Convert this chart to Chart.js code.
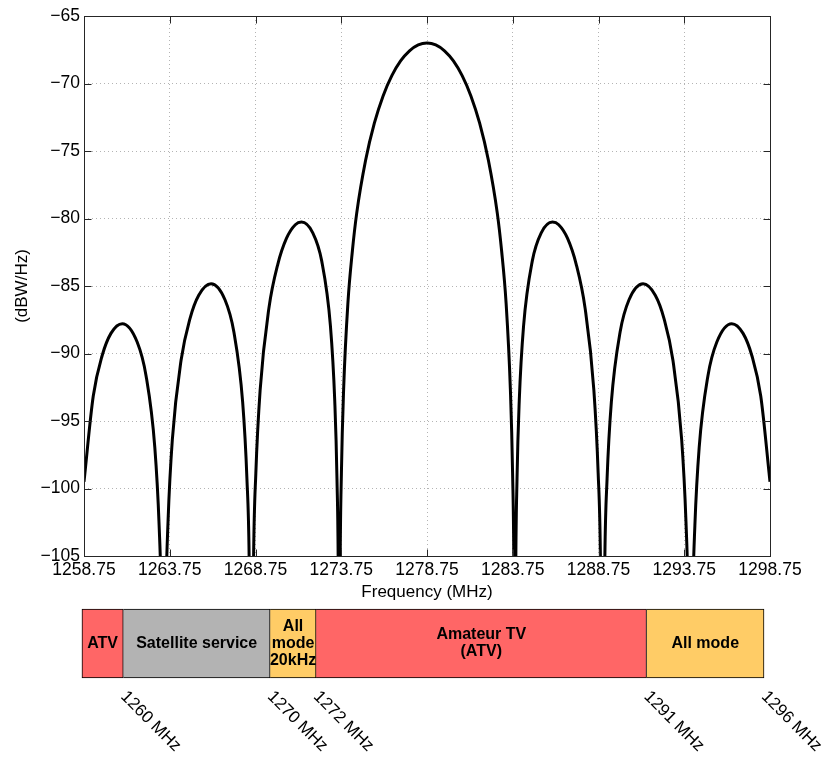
<!DOCTYPE html>
<html>
<head>
<meta charset="utf-8">
<script src="https://cdn.jsdelivr.net/npm/chart.js@4.4.1/dist/chart.umd.min.js"></script>
<style>
  html, body { margin: 0; padding: 0; background: #fff; }
  #wrap { position: relative; width: 834px; height: 758px; }
  #spectrum { position: absolute; left: 0; top: 0; }
  #bands { position: absolute; left: 0; top: 600px; }
</style>
</head>
<body>
<div id="wrap">
  <canvas id="spectrum" width="834" height="610"></canvas>
  <canvas id="bands" width="834" height="158"></canvas>
</div>
<script>
// spectrum (MHz, dBW/Hz); nulls go below the axis floor
var freq = [
  1258.75, 1259.29, 1259.81, 1260.32, 1260.98, 1261.85, 1262.37, 1262.88, 1263.13, 1263.26,
  1263.39, 1263.52, 1263.65, 1263.90, 1264.41, 1264.93, 1265.44, 1266.16, 1266.97, 1267.49,
  1268.00, 1268.25, 1268.38, 1268.51, 1268.64, 1268.77, 1269.02, 1269.53, 1270.05, 1270.56,
  1271.07, 1271.43, 1272.09, 1272.61, 1273.12, 1273.37, 1273.50, 1273.58, 1273.63, 1273.68,
  1273.76, 1273.89, 1274.14, 1274.40, 1274.65, 1275.17, 1275.68, 1276.19, 1276.70, 1277.21,
  1277.73, 1278.24, 1278.75, 1279.26, 1279.77, 1280.29, 1280.80, 1281.31, 1281.82, 1282.33,
  1282.85, 1283.10, 1283.36, 1283.61, 1283.74, 1283.82, 1283.87, 1283.92, 1284.00, 1284.13,
  1284.38, 1284.89, 1285.41, 1286.07, 1286.43, 1286.94, 1287.45, 1287.97, 1288.48, 1288.73,
  1288.86, 1288.99, 1289.12, 1289.25, 1289.50, 1290.01, 1290.53, 1291.35, 1292.06, 1292.57,
  1293.09, 1293.60, 1293.85, 1293.98, 1294.11, 1294.24, 1294.37, 1294.62, 1295.13, 1295.65,
  1296.52, 1297.18, 1297.69, 1298.21, 1298.75
];
var level = [
  -99.5, -93.15, -90.15, -88.51, -87.79, -89.15, -91.66, -96.97, -102.74, -108.66,
  -125, -108.5, -102.45, -96.39, -90.5, -87.41, -85.68, -84.83, -86.02, -88.41,
  -93.59, -99.29, -105.2, -125, -104.96, -98.86, -92.72, -86.66, -83.39, -81.46,
  -80.46, -80.26, -81.06, -83.14, -87.97, -93.48, -99.26, -107.09, -125, -106.9,
  -98.83, -92.61, -86.23, -82.39, -79.62, -75.69, -72.94, -70.92, -69.42, -68.33,
  -67.58, -67.14, -67.0, -67.14, -67.58, -68.33, -69.42, -70.92, -72.94, -75.69,
  -79.62, -82.39, -86.23, -92.61, -98.83, -106.9, -125, -107.09, -99.26, -93.48,
  -87.97, -83.14, -81.06, -80.26, -80.46, -81.46, -83.39, -86.66, -92.72, -98.86,
  -104.96, -125, -105.2, -99.29, -93.59, -88.41, -86.02, -84.83, -85.68, -87.41,
  -90.5, -96.39, -102.45, -108.5, -125, -108.66, -102.74, -96.97, -91.66, -89.15,
  -87.79, -88.51, -90.15, -93.15, -99.5
];
var freqTicks = [1258.75, 1263.75, 1268.75, 1273.75, 1278.75, 1283.75, 1288.75, 1293.75, 1298.75];
var levelTicks = [-105, -100, -95, -90, -85, -80, -75, -70, -65];

// band plan strip, edges placed where they sit under the frequency axis
var bandNames = [['ATV'], ['Satellite service'], ['All', 'mode', '20kHz'], ['Amateur TV', '(ATV)'], ['All mode']];
var bandStart = [1258.63, 1261.04, 1269.6, 1272.28, 1291.55];
var bandEnd = [1261.04, 1269.6, 1272.28, 1291.55, 1298.4];
var bandColors = ['#ff6666', '#b3b3b3', '#ffcc66', '#ff6666', '#ffcc66'];
var edgeLabels = ['1260 MHz', '1270 MHz', '1272 MHz', '1291 MHz', '1296 MHz'];

var FONT = '"Liberation Sans", Arial, Helvetica, sans-serif';
Chart.defaults.font.family = FONT;
Chart.defaults.color = '#000';

function minusLabel(v) {
    return v < 0 ? '\u2212' + Math.abs(v) : String(v);
}

// matlab style box with inward ticks on all four sides
var frameBox = {
    id: 'frameBox',
    afterDraw: function(chart) {
        var a = chart.chartArea;
        var ctx = chart.ctx;
        var xs = chart.scales.x;
        var ys = chart.scales.y;
        var L = Math.round(a.left) + 0.5, R = Math.round(a.right) + 0.5;
        var T = Math.round(a.top) + 0.5, B = Math.round(a.bottom) + 0.5;
        ctx.save();
        ctx.strokeStyle = '#262626';
        ctx.lineWidth = 1;
        ctx.strokeRect(L, T, R - L, B - T);
        ctx.beginPath();
        xs.ticks.forEach(function(t) {
            var px = Math.round(xs.getPixelForValue(t.value)) + 0.5;
            ctx.moveTo(px, B); ctx.lineTo(px, B - 7);
            ctx.moveTo(px, T); ctx.lineTo(px, T + 7);
        });
        ys.ticks.forEach(function(t) {
            var py = Math.round(ys.getPixelForValue(t.value)) + 0.5;
            ctx.moveTo(L, py); ctx.lineTo(L + 7, py);
            ctx.moveTo(R, py); ctx.lineTo(R - 7, py);
        });
        ctx.stroke();
        ctx.restore();
    }
};

new Chart(document.getElementById('spectrum').getContext('2d'), {
    type: 'line',
    data: {
        datasets: [{
            data: freq.map(function(f, i) { return {x: f, y: level[i]}; }),
            borderColor: '#000',
            borderWidth: 3,
            pointRadius: 0,
            fill: false,
            cubicInterpolationMode: 'monotone',
            clip: 0
        }]
    },
    options: {
        responsive: false,
        animation: false,
        events: [],
        layout: { padding: { top: 16, right: 64, left: 0, bottom: 0 } },
        plugins: { legend: { display: false }, tooltip: { enabled: false } },
        scales: {
            x: {
                type: 'linear',
                min: 1258.75,
                max: 1298.75,
                afterBuildTicks: function(scale) {
                    scale.ticks = freqTicks.map(function(v) { return {value: v}; });
                },
                afterFit: function(scale) { scale.height = 54; },
                ticks: {
                    autoSkip: false,
                    maxRotation: 0,
                    padding: 4,
                    font: { size: 17.5 },
                    callback: function(v) { return Number(v).toFixed(2); }
                },
                grid: { color: '#b4b4b4', lineWidth: 1, drawTicks: false },
                border: { display: false, dash: [1, 3] },
                title: { display: true, text: 'Frequency (MHz)', font: { size: 17 }, padding: { top: 0, bottom: 7 } }
            },
            y: {
                type: 'linear',
                min: -105,
                max: -65,
                afterBuildTicks: function(scale) {
                    scale.ticks = levelTicks.map(function(v) { return {value: v}; });
                },
                afterFit: function(scale) { scale.width = 84; },
                ticks: {
                    padding: 4,
                    font: { size: 17.5 },
                    callback: function(v) { return minusLabel(v); }
                },
                grid: { color: '#b4b4b4', lineWidth: 1, drawTicks: false },
                border: { display: false, dash: [1, 3] },
                title: { display: true, text: '(dBW/Hz)', font: { size: 17 }, padding: { top: 12, bottom: 0 } }
            }
        }
    },
    plugins: [frameBox]
});

// names inside the bands and slanted edge frequencies underneath
var bandText = {
    id: 'bandText',
    afterDatasetsDraw: function(chart) {
        var ctx = chart.ctx;
        var xs = chart.scales.x;
        ctx.save();
        ctx.fillStyle = '#000';
        ctx.font = 'bold 16px ' + FONT;
        ctx.textAlign = 'center';
        ctx.textBaseline = 'middle';
        chart.data.datasets.forEach(function(ds, i) {
            var bar = chart.getDatasetMeta(i).data[0];
            var cx = (bar.x + bar.base) / 2;
            var lines = bandNames[i];
            lines.forEach(function(line, k) {
                ctx.fillText(line, cx, bar.y + (k - (lines.length - 1) / 2) * 17);
            });
        });
        ctx.font = '17px ' + FONT;
        ctx.textAlign = 'left';
        ctx.textBaseline = 'top';
        bandEnd.forEach(function(v, i) {
            ctx.save();
            ctx.translate(xs.getPixelForValue(v) + 6, chart.chartArea.bottom + 10);
            ctx.rotate(Math.PI / 4);
            ctx.fillText(edgeLabels[i], 0, 0);
            ctx.restore();
        });
        ctx.restore();
    }
};

new Chart(document.getElementById('bands').getContext('2d'), {
    type: 'bar',
    data: {
        labels: ['plan'],
        datasets: bandNames.map(function(n, i) {
            return {
                label: n.join(' '),
                data: [[bandStart[i], bandEnd[i]]],
                backgroundColor: bandColors[i],
                borderColor: '#000',
                borderWidth: 1,
                borderSkipped: i === 0 ? false : 'left',
                barPercentage: 1,
                categoryPercentage: 1,
                grouped: false,
                clip: false
            };
        })
    },
    options: {
        indexAxis: 'y',
        responsive: false,
        animation: false,
        events: [],
        layout: { padding: { top: 9, right: 64, left: 84, bottom: 80 } },
        plugins: { legend: { display: false }, tooltip: { enabled: false } },
        scales: {
            x: { type: 'linear', min: 1258.75, max: 1298.75, display: false },
            y: { display: false }
        }
    },
    plugins: [bandText]
});
</script>
</body>
</html>
